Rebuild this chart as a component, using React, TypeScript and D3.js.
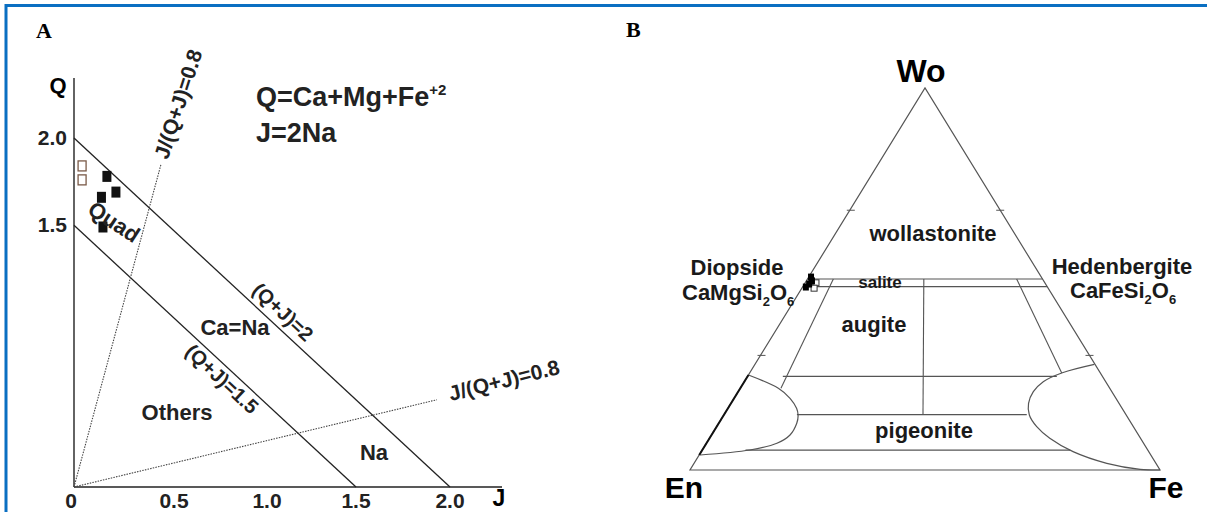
import React from "react";
import * as d3 from "d3";

// ---------- Panel A data (Q–J diagram) ----------
const jTicks = [0, 0.5, 1.0, 1.5, 2.0];
const jTickLabels = ["0", "0.5", "1.0", "1.5", "2.0"];
const qTicks = [1.5, 2.0];
const qTickLabels = ["1.5", "2.0"];
const sumLines = [2.0, 1.5]; // Q+J = const
const ratioLineEndJ = [0.463, 1.93];
const ratioLineEndQ = [1.85, 0.5];
const openJ = [0.043, 0.043];
const openQ = [1.84, 1.76];
const filledJ = [0.175, 0.223, 0.146, 0.154];
const filledQ = [1.78, 1.69, 1.66, 1.49];

// ---------- Panel B data (Wo–En–Fs ternary) ----------
const woLevels = [0.5, 0.48, 0.245, 0.145, 0.052];
const woLevelFsStart = [0, 0, 0.075, 0.155, 0.092];
const woLevelFsEnd = [0.5, 0.52, 0.658, 0.644, 0.783];
const ratioLines = [0.11, 0.89, 0.495]; // Fs/(En+Fs)
const ratioLineWoTop = [0.5, 0.5, 0.5];
const ratioLineWoBottom = [0.214, 0.254, 0.145];
const leftCurveWo = [0.2487, 0.2139, 0.1877, 0.1615, 0.144, 0.1223, 0.0916, 0.0699, 0.0524, 0.0393];
const leftCurveFs = [0, 0.081, 0.119, 0.146, 0.158, 0.166, 0.167, 0.15, 0.101, 0.002];
const rightCurveWo = [0.2767, 0.2547, 0.2312, 0.205, 0.1746, 0.144, 0.1134, 0.083, 0.048, 0.0175, 0.0018, 0];
const rightCurveFs = [0.722, 0.665, 0.636, 0.628, 0.633, 0.65, 0.681, 0.724, 0.791, 0.878, 0.957, 1];
const edgeTickWo = [0.68, 0.3];
const bFilledWo = [0.505, 0.495, 0.487, 0.479];
const bFilledFs = [0.005, 0.012, 0.01, 0.007];
const bOpenWo = [0.49, 0.476];
const bOpenFs = [0.023, 0.026];

const SANS = "'Liberation Sans', Arial, sans-serif";
const SERIF = "'Liberation Serif', 'Times New Roman', serif";

export default function App() {
  // Panel A scales
  const xA = d3.scaleLinear().domain([0, 2]).range([74, 450]);
  const yA = d3.scaleLinear().domain([0, 2]).range([487, 138]);

  // Panel B scales: horizontal = Fs + Wo/2, vertical = Wo
  const xB = d3.scaleLinear().domain([0, 1]).range([690, 1160]);
  const yB = d3.scaleLinear().domain([0, 1]).range([470, 88]);
  const tp = (wo: number, fs: number): [number, number] => [xB(fs + wo / 2), yB(wo)];
  const curveGen = d3
    .line<[number, number]>()
    .x((d) => d[0])
    .y((d) => d[1])
    .curve(d3.curveCatmullRom.alpha(0.5));

  const leftCurve = leftCurveWo.map((w, i) => tp(w, leftCurveFs[i]));
  const rightCurve = rightCurveWo.map((w, i) => tp(w, rightCurveFs[i]));

  const lineCol = "#222";
  const triCol = "#555";

  return (
    <div style={{ position: "absolute", left: 0, top: 0 }}>
      <svg width={1207} height={512} style={{ display: "block", background: "#fff" }}>
        {/* frame */}
        <line x1={5} y1={5.5} x2={1207} y2={5.5} stroke="#0a6fc2" strokeWidth={3} />
        <line x1={6} y1={4} x2={6} y2={512} stroke="#0a6fc2" strokeWidth={3} />

        {/* ---------------- Panel A ---------------- */}
        <text x={36} y={38} fontFamily={SERIF} fontWeight="bold" fontSize={22}>A</text>

        {/* axes */}
        <line x1={xA(0)} y1={yA(0)} x2={xA(0)} y2={78} stroke={lineCol} strokeWidth={1.4} />
        <line x1={xA(0)} y1={yA(0)} x2={502} y2={yA(0)} stroke={lineCol} strokeWidth={1.4} />
        <text x={58} y={93} fontFamily={SANS} fontWeight="bold" fontSize={22} textAnchor="middle">Q</text>
        <text x={499} y={506} fontFamily={SANS} fontWeight="bold" fontSize={23} textAnchor="middle">J</text>

        {jTicks.map((t, i) => (
          <text key={"jt" + i} x={xA(t) + (i === 0 ? -3 : i === 1 ? 6 : i === 2 ? 5 : 0)} y={508}
            fontFamily={SANS} fontWeight="bold" fontSize={21} textAnchor="middle" fill="#222">
            {jTickLabels[i]}
          </text>
        ))}
        {qTicks.map((t, i) => (
          <text key={"qt" + i} x={67} y={yA(t) + 7} fontFamily={SANS} fontWeight="bold" fontSize={21}
            textAnchor="end" fill="#222">
            {qTickLabels[i]}
          </text>
        ))}

        {/* Q+J lines */}
        {sumLines.map((s, i) => (
          <line key={"sl" + i} x1={xA(0)} y1={yA(s)} x2={xA(s)} y2={yA(0)} stroke={lineCol} strokeWidth={1.3} />
        ))}
        {/* dotted ratio lines */}
        {ratioLineEndJ.map((j, i) => (
          <line key={"rl" + i} x1={xA(0)} y1={yA(0)} x2={xA(j)} y2={yA(ratioLineEndQ[i])}
            stroke="#444" strokeWidth={1.1} strokeDasharray="1.5,1.2" />
        ))}

        {/* points */}
        {openJ.map((j, i) => (
          <rect key={"op" + i} x={xA(j) - 4} y={yA(openQ[i]) - 5} width={8} height={10}
            fill="#fff" stroke="#7a5a48" strokeWidth={1.3} />
        ))}
        {filledJ.map((j, i) => (
          <rect key={"fp" + i} x={xA(j) - 4.5} y={yA(filledQ[i]) - 5.5} width={9} height={11} fill="#111" />
        ))}

        {/* formula */}
        <text x={256} y={106} fontFamily={SANS} fontWeight="bold" fontSize={27} fill="#222">
          Q=Ca+Mg+Fe<tspan fontSize={15} dy={-11}>+2</tspan>
        </text>
        <text x={256} y={142} fontFamily={SANS} fontWeight="bold" fontSize={27} fill="#222">J=2Na</text>

        {/* field labels */}
        <text x={114} y={222} transform="rotate(33 114 222)" fontFamily={SANS} fontWeight="bold" fontSize={22}
          textAnchor="middle" dominantBaseline="central" fill="#222">Quad</text>
        <text x={235} y={327} fontFamily={SANS} fontWeight="bold" fontSize={22} textAnchor="middle"
          dominantBaseline="central" fill="#222">Ca=Na</text>
        <text x={177} y={412} fontFamily={SANS} fontWeight="bold" fontSize={22} textAnchor="middle"
          dominantBaseline="central" fill="#222">Others</text>
        <text x={374} y={452} fontFamily={SANS} fontWeight="bold" fontSize={22} textAnchor="middle"
          dominantBaseline="central" fill="#222">Na</text>
        <text x={283} y={312} transform="rotate(43 283 312)" fontFamily={SANS} fontWeight="bold" fontSize={20}
          textAnchor="middle" dominantBaseline="central" fill="#222">(Q+J)=2</text>
        <text x={222} y={379} transform="rotate(43 222 379)" fontFamily={SANS} fontWeight="bold" fontSize={20}
          textAnchor="middle" dominantBaseline="central" fill="#222">(Q+J)=1.5</text>
        <text x={178} y={104} transform="rotate(-72 178 104)" fontFamily={SANS} fontWeight="bold" fontSize={21}
          textAnchor="middle" dominantBaseline="central" fill="#222">J/(Q+J)=0.8</text>
        <text x={504} y={380} transform="rotate(-14 504 380)" fontFamily={SANS} fontWeight="bold" fontSize={21}
          textAnchor="middle" dominantBaseline="central" fill="#222">J/(Q+J)=0.8</text>

        {/* ---------------- Panel B ---------------- */}
        <text x={626} y={37} fontFamily={SERIF} fontWeight="bold" fontSize={22}>B</text>

        {/* triangle */}
        <polygon
          points={[tp(0, 0), tp(0, 1), tp(1, 0)].map((p) => p.join(",")).join(" ")}
          fill="none" stroke={triCol} strokeWidth={1.2} />

        {/* horizontal field boundaries */}
        {woLevels.map((w, i) => {
          const a = tp(w, woLevelFsStart[i]);
          const b = tp(w, woLevelFsEnd[i]);
          return <line key={"wl" + i} x1={a[0]} y1={a[1]} x2={b[0]} y2={b[1]} stroke={triCol} strokeWidth={1.1} />;
        })}
        {/* ratio lines */}
        {ratioLines.map((r, i) => {
          const wt = ratioLineWoTop[i];
          const wb = ratioLineWoBottom[i];
          const a = tp(wt, r * (1 - wt));
          const b = tp(wb, r * (1 - wb));
          return <line key={"rr" + i} x1={a[0]} y1={a[1]} x2={b[0]} y2={b[1]} stroke={triCol} strokeWidth={1.1} />;
        })}
        {/* curves */}
        <path d={curveGen(leftCurve) || ""} fill="none" stroke={triCol} strokeWidth={1.2} />
        <path d={curveGen(rightCurve) || ""} fill="none" stroke={triCol} strokeWidth={1.2} />
        {/* thick segment on left edge */}
        <line x1={tp(leftCurveWo[0], 0)[0]} y1={tp(leftCurveWo[0], 0)[1]}
          x2={tp(leftCurveWo[leftCurveWo.length - 1], 0)[0]} y2={tp(leftCurveWo[leftCurveWo.length - 1], 0)[1]}
          stroke="#111" strokeWidth={2} />

        {/* edge ticks */}
        {edgeTickWo.map((w, i) => {
          const l = tp(w, 0);
          const r = tp(w, 1 - w);
          return (
            <g key={"et" + i}>
              <line x1={l[0] - 3} y1={l[1]} x2={l[0] + 5} y2={l[1]} stroke={triCol} strokeWidth={1} />
              <line x1={r[0] - 4} y1={r[1]} x2={r[0] + 4} y2={r[1]} stroke={triCol} strokeWidth={1} />
            </g>
          );
        })}

        {/* data points */}
        {bOpenWo.map((w, i) => {
          const p = tp(w, bOpenFs[i]);
          return <rect key={"bo" + i} x={p[0] - 3} y={p[1] - 3} width={6} height={6} fill="#fff" stroke="#333" strokeWidth={1} />;
        })}
        {bFilledWo.map((w, i) => {
          const p = tp(w, bFilledFs[i]);
          return <rect key={"bf" + i} x={p[0] - 3} y={p[1] - 3.5} width={6} height={7} fill="#000" />;
        })}

        {/* vertex labels */}
        <text x={921} y={82} fontFamily={SANS} fontWeight="bold" fontSize={32} textAnchor="middle">Wo</text>
        <text x={684} y={498} fontFamily={SANS} fontWeight="bold" fontSize={30} textAnchor="middle">En</text>
        <text x={1166} y={498} fontFamily={SANS} fontWeight="bold" fontSize={30} textAnchor="middle">Fe</text>

        {/* field labels */}
        <text x={933} y={233} fontFamily={SANS} fontWeight="bold" fontSize={22} textAnchor="middle"
          dominantBaseline="central" fill="#1a1a1a">wollastonite</text>
        <text x={880} y={282} fontFamily={SANS} fontWeight="bold" fontSize={17} textAnchor="middle"
          dominantBaseline="central" fill="#1a1a1a">salite</text>
        <text x={874} y={324} fontFamily={SANS} fontWeight="bold" fontSize={22} textAnchor="middle"
          dominantBaseline="central" fill="#1a1a1a">augite</text>
        <text x={924} y={430} fontFamily={SANS} fontWeight="bold" fontSize={22} textAnchor="middle"
          dominantBaseline="central" fill="#1a1a1a">pigeonite</text>

        <text x={737} y={275} fontFamily={SANS} fontWeight="bold" fontSize={22} textAnchor="middle" fill="#1a1a1a">Diopside</text>
        <text x={682} y={300} fontFamily={SANS} fontWeight="bold" fontSize={22} fill="#1a1a1a">
          CaMgSi<tspan fontSize={13} dy={6}>2</tspan><tspan dy={-6}>O</tspan><tspan fontSize={13} dy={6}>6</tspan>
        </text>
        <text x={1122} y={274} fontFamily={SANS} fontWeight="bold" fontSize={22} textAnchor="middle" fill="#1a1a1a">Hedenbergite</text>
        <text x={1070} y={298} fontFamily={SANS} fontWeight="bold" fontSize={22} fill="#1a1a1a">
          CaFeSi<tspan fontSize={13} dy={6}>2</tspan><tspan dy={-6}>O</tspan><tspan fontSize={13} dy={6}>6</tspan>
        </text>
      </svg>
    </div>
  );
}
